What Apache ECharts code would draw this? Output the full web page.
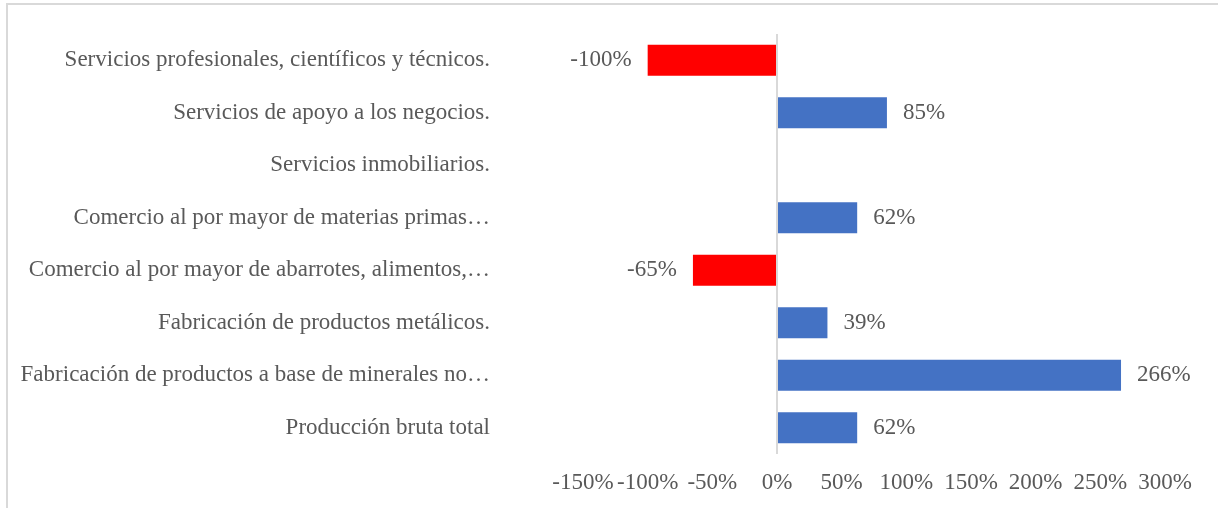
<!DOCTYPE html>
<html>
<head>
<meta charset="utf-8">
<script src="https://cdn.jsdelivr.net/npm/echarts@6/dist/echarts.min.js"></script>
<style>
	html,body{margin:0;padding:0;background:#fff;}
	#chart{width:1218px;height:508px;}
</style>
</head>
<body>
<div id="chart"></div>
<script>
	// categorias de arriba hacia abajo
	const categories = [
		'Servicios profesionales, científicos y técnicos.',
		'Servicios de apoyo a los negocios.',
		'Servicios inmobiliarios.',
		'Comercio al por mayor de materias primas…',
		'Comercio al por mayor de abarrotes, alimentos,…',
		'Fabricación de productos metálicos.',
		'Fabricación de productos a base de minerales no…',
		'Producción bruta total'
	];
	const values = [-100, 85, null, 62, -65, 39, 266, 62];
	const xTicks = [-150, 300, 50]; // min, max, intervalo

	const fontFam = '"Liberation Serif","DejaVu Serif",serif';
	const textColor = '#595959';

	const myChart = echarts.init(document.getElementById('chart'));
	const option = {
		backgroundColor: '#fff',
		animation: false,
		grid: {left: 583, right: 53, top: 34, bottom: 54},
		xAxis: {
			type: 'value',
			min: xTicks[0],
			max: xTicks[1],
			interval: xTicks[2],
			axisLine: {show: false},
			axisTick: {show: false},
			splitLine: {show: false},
			axisLabel: {
				margin: 17,
				fontFamily: fontFam,
				fontSize: 23,
				color: textColor,
				formatter: v => v + '%'
			}
		},
		yAxis: {
			type: 'category',
			data: categories,
			inverse: true,
			axisLine: {show: false},
			axisTick: {show: false},
			axisLabel: {
				margin: 93,
				fontFamily: fontFam,
				fontSize: 23,
				color: textColor
			}
		},
		series: [{
			type: 'bar',
			barWidth: 31,
			data: values.map(v => v == null ? null : {
				value: v,
				itemStyle: {color: v < 0 ? '#FF0000' : '#4472C4'},
				label: {position: v < 0 ? 'left' : 'right'}
			}),
			label: {
				show: true,
				distance: 16,
				fontFamily: fontFam,
				fontSize: 23,
				color: textColor,
				formatter: p => p.value + '%'
			},
			markLine: {
				silent: true,
				symbol: 'none',
				label: {show: false},
				lineStyle: {color: '#D9D9D9', width: 2, type: 'solid'},
				data: [{xAxis: 0}]
			}
		}],
		graphic: [
			{type: 'line', shape: {x1: 6, y1: 4, x2: 1218, y2: 4}, style: {stroke: '#D9D9D9', lineWidth: 2}},
			{type: 'line', shape: {x1: 7, y1: 4, x2: 7, y2: 508}, style: {stroke: '#D9D9D9', lineWidth: 2}}
		]
	};
	myChart.setOption(option);
</script>
</body>
</html>
